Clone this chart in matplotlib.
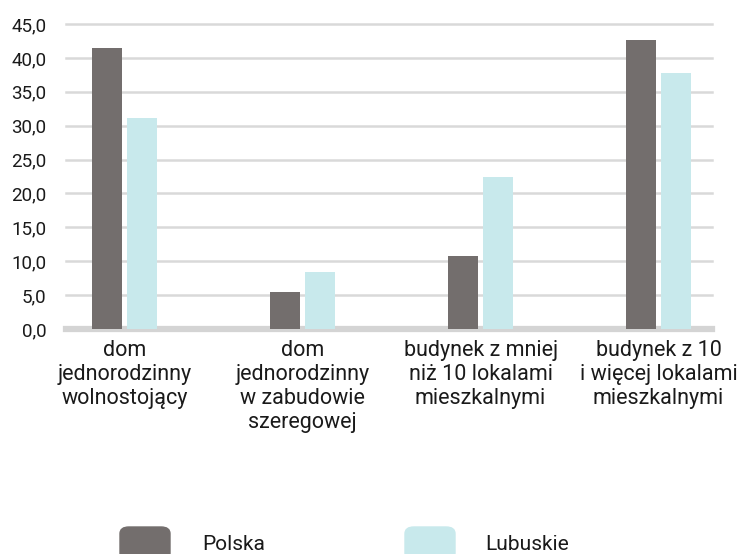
import matplotlib
matplotlib.use("Agg")
import matplotlib.pyplot as plt
from matplotlib.patches import FancyBboxPatch
import numpy as np

plt.rcParams['font.family'] = ['Roboto', 'DejaVu Sans']

categories = ['dom\njednorodzinny\nwolnostojący',
              'dom\njednorodzinny\nw zabudowie\nszeregowej',
              'budynek z mniej\nniż 10 lokalami\nmieszkalnymi',
              'budynek z 10\ni więcej lokalami\nmieszkalnymi']
polska = [41.5, 5.5, 10.8, 42.6]
lubuskie = [31.1, 8.4, 22.4, 37.8]
series_names = ['Polska', 'Lubuskie']
colors = ['#736e6d', '#c8e9ec']
yticks = np.arange(0, 46, 5)

fig = plt.figure(figsize=(7.42, 5.54), dpi=100)
W, H = 742, 554
ax = fig.add_axes([66 / W, 1 - 329 / H, (712 - 66) / W, (329 - 24) / H])

x = np.arange(len(categories))
w = 0.1685
off = 0.0983
ax.bar(x - off, polska, w, color=colors[0], zorder=3)
ax.bar(x + off, lubuskie, w, color=colors[1], zorder=3)

ax.set_xlim(-0.3287, 3.30)
ax.set_ylim(0, 45)
ax.set_yticks(yticks)
ax.set_yticklabels([f'{v:.1f}'.replace('.', ',') for v in yticks])
ax.set_xticks(x)
ax.set_xticklabels(categories, linespacing=1.18)
ax.tick_params(axis='y', length=0, pad=14, labelsize=13.5, labelcolor='#1a1a1a')
ax.tick_params(axis='x', length=0, pad=8, labelsize=15.5, labelcolor='#1a1a1a')

for v in yticks[1:]:
    ax.axhline(v, color='#d9d9d9', lw=1.8, zorder=1, clip_on=False)
ax.axhline(0, color='#d4d4d4', lw=4.5, zorder=2, clip_on=False)
for s in ax.spines.values():
    s.set_visible(False)

# legend at the bottom, rounded swatches
for (x0, x1, tx), name, c in zip([(120, 170, 202), (405, 455, 485)], series_names, colors):
    p = FancyBboxPatch((x0 / W, 1 - 560 / H), (x1 - x0) / W, 33 / H,
                       boxstyle='round,pad=0,rounding_size=0.012',
                       transform=fig.transFigure, color=c, clip_on=False)
    fig.patches.append(p)
    fig.text(tx / W, 1 - 544 / H, name, fontsize=15, color='#1a1a1a',
             va='center', ha='left')

fig.savefig('out.png', dpi=100)
